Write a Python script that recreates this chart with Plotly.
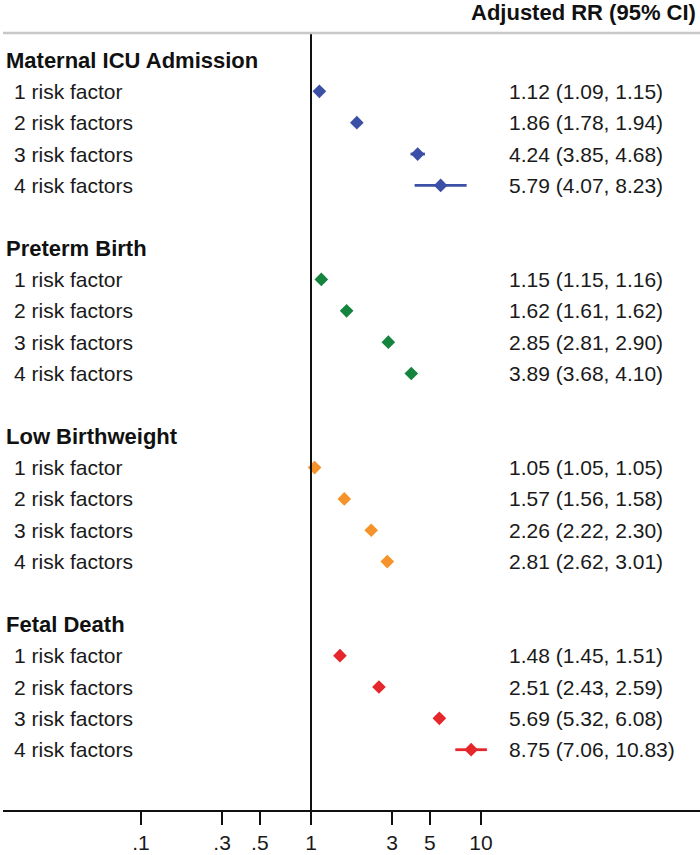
import plotly.graph_objects as go

outcomes = ["Maternal ICU Admission", "Preterm Birth", "Low Birthweight", "Fetal Death"]
row_labels = ["1 risk factor", "2 risk factors", "3 risk factors", "4 risk factors"]
colors = ["#3b4fa6", "#15843f", "#f5922a", "#e5262b"]

icu_est = [1.12, 1.86, 4.24, 5.79]
icu_lo = [1.09, 1.78, 3.85, 4.07]
icu_hi = [1.15, 1.94, 4.68, 8.23]

preterm_est = [1.15, 1.62, 2.85, 3.89]
preterm_lo = [1.15, 1.61, 2.81, 3.68]
preterm_hi = [1.16, 1.62, 2.90, 4.10]

lbw_est = [1.05, 1.57, 2.26, 2.81]
lbw_lo = [1.05, 1.56, 2.22, 2.62]
lbw_hi = [1.05, 1.58, 2.30, 3.01]

fetal_est = [1.48, 2.51, 5.69, 8.75]
fetal_lo = [1.45, 2.43, 5.32, 7.06]
fetal_hi = [1.51, 2.59, 6.08, 10.83]

tick_vals = [0.1, 0.3, 0.5, 1, 3, 5, 10]
tick_text = [".1", ".3", ".5", "1", "3", "5", "10"]

groups = [
    (icu_est, icu_lo, icu_hi),
    (preterm_est, preterm_lo, preterm_hi),
    (lbw_est, lbw_lo, lbw_hi),
    (fetal_est, fetal_lo, fetal_hi),
]

W, H = 700, 855
ML, MR, MT, MB = 3, 0, 33, 45
PW = W - ML - MR
PH = H - MT - MB


def px_x(px):
    return (px - ML) / PW


def px_y(py):
    return (H - MB - py) / PH


FONT = "Liberation Sans, Arial, sans-serif"
TXT = "#1a1a1a"

fig = go.Figure()
annotations = []

for g, (name, (est, lo, hi), col) in enumerate(zip(outcomes, groups, colors)):
    base = g * 6
    annotations.append(dict(
        x=px_x(4), xref="paper", y=base, yref="y", text="<b>" + name + "</b>",
        showarrow=False, xanchor="left", yanchor="middle",
        font=dict(family=FONT, size=22, color="#111111")))
    ys = [base + 1 + i for i in range(4)]
    # CI lines
    lx, ly = [], []
    for yv, a, b in zip(ys, lo, hi):
        lx += [a, b, None]
        ly += [yv, yv, None]
    fig.add_trace(go.Scatter(x=lx, y=ly, mode="lines",
                             line=dict(color=col, width=2.8),
                             showlegend=False, hoverinfo="skip"))
    fig.add_trace(go.Scatter(x=est, y=ys, mode="markers",
                             marker=dict(symbol="diamond", size=10.5, color=col,
                                         line=dict(width=0)),
                             showlegend=False))
    for yv, lab, e, a, b in zip(ys, row_labels, est, lo, hi):
        annotations.append(dict(
            x=px_x(12), xref="paper", y=yv, yref="y", text=lab,
            showarrow=False, xanchor="left", yanchor="middle",
            font=dict(family=FONT, size=21, color=TXT)))
        annotations.append(dict(
            x=px_x(507), xref="paper", y=yv, yref="y",
            text=f"{e:.2f} ({a:.2f}, {b:.2f})",
            showarrow=False, xanchor="left", yanchor="middle",
            font=dict(family=FONT, size=21, color=TXT)))

annotations.append(dict(
    x=px_x(698), xref="paper", y=px_y(13), yref="paper",
    text="<b>Adjusted RR (95% CI)</b>", showarrow=False,
    xanchor="right", yanchor="middle",
    font=dict(family=FONT, size=22, color="#111111")))

# row index -> pixel: 60 + 31.35*r
r_top = (MT - 60) / 31.35
r_bot = (H - MB - 60) / 31.35

shapes = [
    dict(type="line", xref="x", yref="paper", x0=1, x1=1, y0=0, y1=1,
         line=dict(color="#111111", width=2)),
    dict(type="line", xref="paper", yref="paper", x0=0, x1=1, y0=1, y1=1,
         line=dict(color="#c8c8c8", width=2.5)),
]

fig.update_layout(
    width=W, height=H,
    margin=dict(l=ML, r=MR, t=MT, b=MB, pad=0),
    paper_bgcolor="white", plot_bgcolor="white",
    showlegend=False,
    annotations=annotations,
    shapes=shapes,
    xaxis=dict(type="log", range=[(ML - 311) / 170, (W - MR - 311) / 170],
               tickvals=tick_vals, ticktext=tick_text,
               ticks="outside", ticklen=13, tickwidth=2, tickcolor="#111111",
               showline=True, linewidth=2, linecolor="#111111",
               showgrid=False, zeroline=False,
               tickfont=dict(family=FONT, size=21, color=TXT)),
    yaxis=dict(range=[r_bot, r_top], visible=False, showgrid=False, zeroline=False),
)

fig.write_html("out.html",
               config={"displayModeBar": False},
               post_script="document.body.style.margin='0';document.body.style.overflow='hidden';")
